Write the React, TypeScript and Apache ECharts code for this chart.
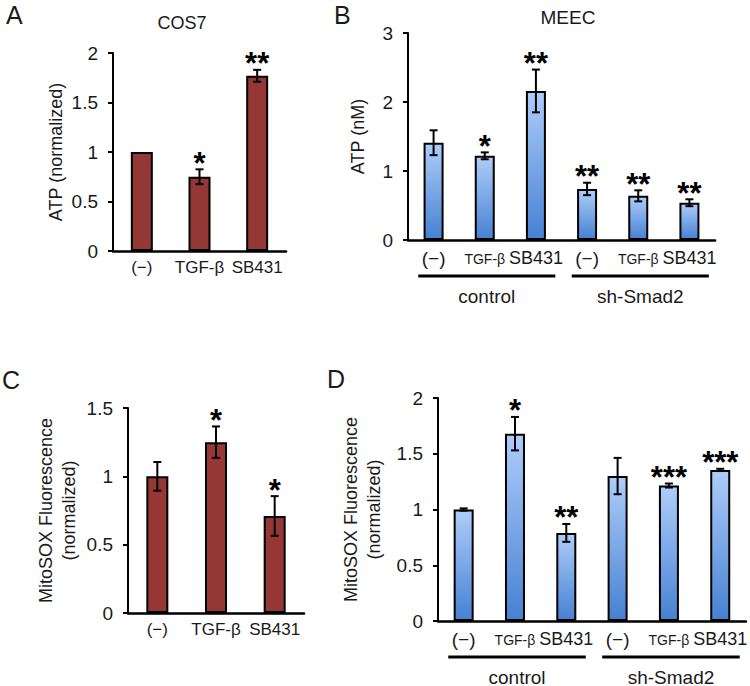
import React, { useEffect, useRef } from "react";
import * as echarts from "echarts";

// ---------- data ----------
const catsAC = ["(−)", "TGF-β", "SB431"];
const catsBD = ["(−)", "TGF-β", "SB431", "(−)", "TGF-β", "SB431"];
const groupNames = ["control", "sh-Smad2"];
const groupStart = [0, 3];
const groupEnd = [2, 5];

const aMean = [1.0, 0.75, 1.77];
const aErr = [0, 0.075, 0.06];
const aSig = ["", "*", "**"];

const bMean = [1.41, 1.22, 2.16, 0.74, 0.64, 0.54];
const bErr = [0.18, 0.05, 0.31, 0.09, 0.08, 0.05];
const bSig = ["", "*", "**", "**", "**", "**"];

const cMean = [1.0, 1.25, 0.71];
const cErr = [0.105, 0.115, 0.145];
const cSig = ["", "*", "*"];

const dMean = [1.0, 1.68, 0.79, 1.3, 1.215, 1.355];
const dErr = [0.01, 0.15, 0.08, 0.163, 0.018, 0.01];
const dSig = ["", "*", "**", "", "***", "***"];

const FONT = "'Liberation Sans', Arial, sans-serif";
const TXT = "#1a1a1a";
const RED = "#953735";
const BLUE = new echarts.graphic.LinearGradient(0, 0, 0, 1, [
  { offset: 0, color: "#aecdf9" },
  { offset: 1, color: "#4681d3" },
]);

function yAxis(gridIndex: number, max: number, interval: number, name: string, nameGap: number) {
  return {
    type: "value",
    gridIndex,
    min: 0,
    max,
    interval,
    name,
    nameLocation: "middle",
    nameGap,
    nameTextStyle: { fontFamily: FONT, fontSize: 18, color: TXT, lineHeight: 23 },
    axisLine: { show: true, lineStyle: { color: "#000", width: 2 } },
    axisTick: { show: true, inside: false, length: 5, lineStyle: { color: "#000", width: 2 } },
    axisLabel: { fontFamily: FONT, fontSize: 19, color: TXT, margin: 15 },
    splitLine: { show: false },
  };
}

function xAxis(gridIndex: number, cats: string[], rich: boolean, margin: number) {
  const label: any = { fontFamily: FONT, fontSize: 17, color: TXT, margin, interval: 0 };
  if (rich) {
    label.formatter = (v: string) => (v === "TGF-β" ? `{t|${v}}` : v === "SB431" ? `{s|${v}}` : `{m|${v}}`);
    label.rich = {
      t: { fontFamily: FONT, fontSize: 14, color: TXT, lineHeight: 18, padding: [3, 0, 0, 0] },
      s: { fontFamily: FONT, fontSize: 18, color: TXT, lineHeight: 20 },
      m: { fontFamily: FONT, fontSize: 19, color: TXT, lineHeight: 20 },
    };
  }
  return {
    type: "category",
    gridIndex,
    data: cats,
    axisLine: { show: true, lineStyle: { color: "#000", width: 2.5 } },
    axisTick: { show: false },
    axisLabel: label,
    splitLine: { show: false },
  };
}

function barSeries(idx: number, data: number[], color: any, barWidth: number) {
  return {
    type: "bar",
    xAxisIndex: idx,
    yAxisIndex: idx,
    data,
    barWidth,
    itemStyle: { color, borderColor: "#000", borderWidth: 2 },
    z: 2,
  };
}

function errSeries(idx: number, mean: number[], err: number[], sig: string[]) {
  return {
    type: "custom",
    xAxisIndex: idx,
    yAxisIndex: idx,
    z: 5,
    clip: false,
    encode: { x: 0, y: 1 },
    data: mean.map((m, i) => [i, m, err[i]]),
    renderItem: (params: any, api: any) => {
      const x = api.value(0);
      const m = api.value(1);
      const e = api.value(2);
      const top = api.coord([x, m + e]);
      const bot = api.coord([x, m - e]);
      const cap = 4;
      const children: any[] = [];
      const ls = { stroke: "#000", lineWidth: 2 };
      if (e > 0) {
        children.push({ type: "line", shape: { x1: top[0], y1: top[1], x2: bot[0], y2: bot[1] }, style: ls });
        children.push({ type: "line", shape: { x1: top[0] - cap, y1: top[1], x2: top[0] + cap, y2: top[1] }, style: ls });
        children.push({ type: "line", shape: { x1: bot[0] - cap, y1: bot[1], x2: bot[0] + cap, y2: bot[1] }, style: ls });
      }
      const s = sig[params.dataIndex];
      if (s) {
        children.push({
          type: "text",
          x: top[0],
          y: top[1] - 6,
          style: {
            text: s,
            fontFamily: FONT,
            fontWeight: "bold",
            fontSize: 31,
            fill: "#000",
            align: "center",
            verticalAlign: "middle",
          },
        });
      }
      return { type: "group", children };
    },
  };
}

function groupSeries(idx: number) {
  return {
    type: "custom",
    xAxisIndex: idx,
    yAxisIndex: idx,
    z: 5,
    clip: false,
    encode: { x: 0, y: 1 },
    data: groupStart.map((s, i) => [s, 0, groupEnd[i]]),
    renderItem: (params: any, api: any) => {
      const s = api.coord([api.value(0), 0]);
      const e = api.coord([api.value(2), 0]);
      const band = api.size([1, 0])[0];
      const x1 = s[0] - band * 0.3;
      const x2 = e[0] + band * 0.38;
      return {
        type: "group",
        children: [
          { type: "line", shape: { x1, y1: s[1] + 36, x2, y2: s[1] + 36 }, style: { stroke: "#000", lineWidth: 3 } },
          {
            type: "text",
            x: (x1 + x2) / 2,
            y: s[1] + 56,
            style: {
              text: groupNames[params.dataIndex],
              fontFamily: FONT,
              fontSize: 19,
              fill: TXT,
              align: "center",
              verticalAlign: "middle",
            },
          },
        ],
      };
    },
  };
}

function label(text: string, x: number, y: number, size: number, align = "left") {
  return {
    type: "text",
    x,
    y,
    style: { text, fontFamily: FONT, fontSize: size, fill: TXT, align, verticalAlign: "middle" },
  };
}

export default function App() {
  const ref = useRef<HTMLDivElement>(null);
  useEffect(() => {
    if (!ref.current) return;
    const chart = echarts.init(ref.current, undefined, { renderer: "svg" });
    chart.setOption({
      animation: false,
      backgroundColor: "#fff",
      grid: [
        { left: 113, top: 53, width: 173, height: 198 },
        { left: 408, top: 33, width: 307, height: 207 },
        { left: 128, top: 408, width: 176, height: 205 },
        { left: 438, top: 398, width: 311, height: 223 },
      ],
      xAxis: [
        xAxis(0, catsAC, false, 8),
        xAxis(1, catsBD, true, 8),
        xAxis(2, catsAC, false, 8),
        xAxis(3, catsBD, true, 8),
      ],
      yAxis: [
        yAxis(0, 2, 0.5, "ATP (normalized)", 46),
        yAxis(1, 3, 1, "ATP (nM)", 39),
        yAxis(2, 1.5, 0.5, "MitoSOX Fluorescence\n(normalized)", 48),
        yAxis(3, 2, 0.5, "MitoSOX Fluorescence\n(normalized)", 53),
      ],
      series: [
        barSeries(0, aMean, RED, 22),
        errSeries(0, aMean, aErr, aSig),
        barSeries(1, bMean, BLUE, 20),
        errSeries(1, bMean, bErr, bSig),
        groupSeries(1),
        barSeries(2, cMean, RED, 22),
        errSeries(2, cMean, cErr, cSig),
        barSeries(3, dMean, BLUE, 20),
        errSeries(3, dMean, dErr, dSig),
        groupSeries(3),
      ],
      graphic: [
        label("A", 6, 15, 25),
        label("B", 334, 15, 25),
        label("C", 2, 380, 25),
        label("D", 327, 379, 25),
        label("COS7", 182, 23, 18, "center"),
        label("MEEC", 568, 17, 19, "center"),
      ],
    });
    return () => chart.dispose();
  }, []);
  return <div ref={ref} style={{ position: "absolute", left: 0, top: 0, width: 750, height: 686 }} />;
}
